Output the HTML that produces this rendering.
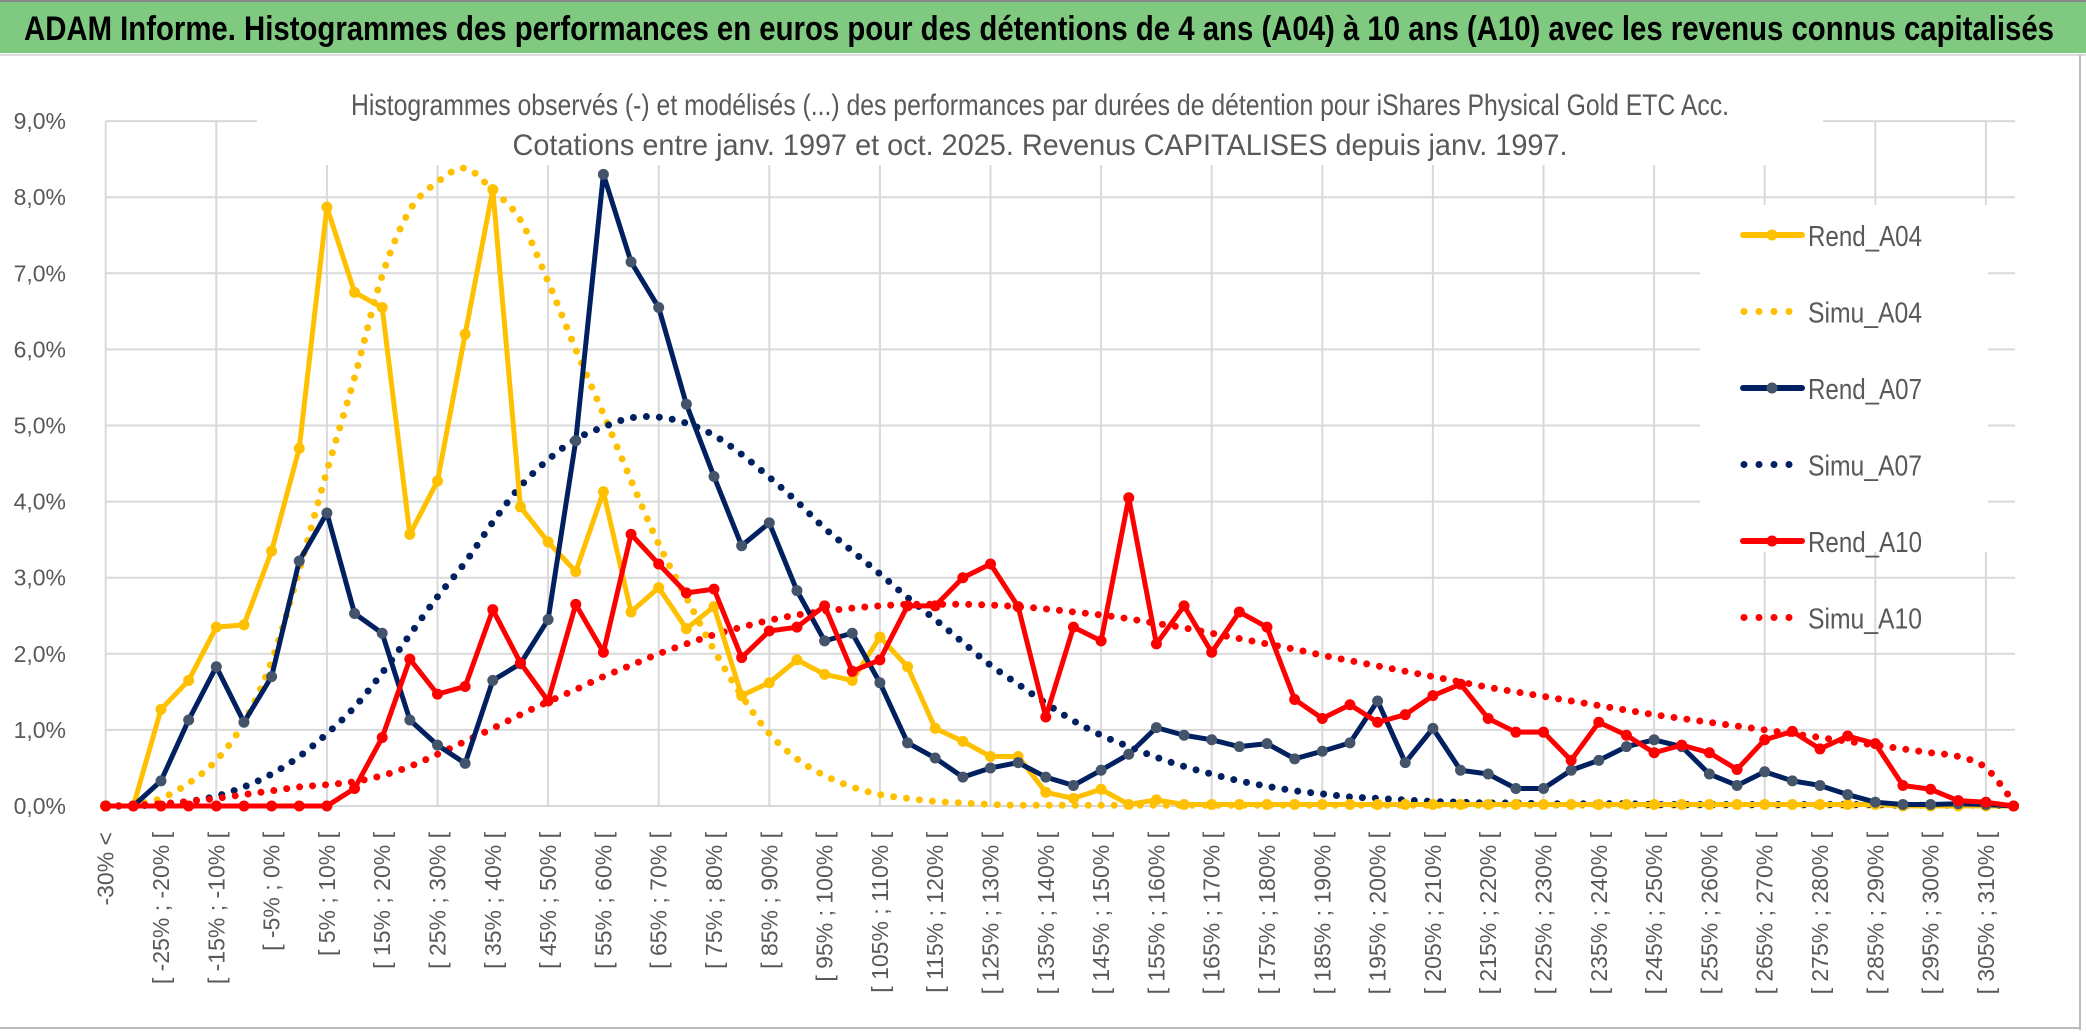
<!DOCTYPE html>
<html><head><meta charset="utf-8"><style>
html,body{margin:0;padding:0;background:#fff;}
svg{display:block;}
text{font-family:"Liberation Sans",sans-serif;}
</style></head><body>
<svg id="chart" width="2086" height="1033" viewBox="0 0 2086 1033">
<rect x="0" y="0" width="2086" height="1033" fill="#fff"/>
<rect x="0" y="0" width="2086" height="53" fill="#7fca80"/>
<line x1="0" y1="1" x2="2086" y2="1" stroke="#888" stroke-width="2"/>
<line x1="0" y1="55" x2="2086" y2="55" stroke="#ddd" stroke-width="2"/>
<text x="24" y="40" font-size="34" font-weight="bold" fill="#000" textLength="2030" lengthAdjust="spacingAndGlyphs">ADAM Informe. Histogrammes des performances en euros pour des détentions de 4 ans (A04) à 10 ans (A10) avec les revenus connus capitalisés</text>
<line x1="2080" y1="55" x2="2080" y2="1030" stroke="#bbb" stroke-width="2"/>
<line x1="0" y1="1028" x2="2080" y2="1028" stroke="#bbb" stroke-width="2"/>
<g id="grid"></g>
<rect x="257" y="60" width="1566" height="105" fill="#fff"/>
<text x="1040" y="115" font-size="30" fill="#595959" text-anchor="middle" textLength="1378" lengthAdjust="spacingAndGlyphs">Histogrammes observés (-) et modélisés (...) des performances par durées de détention pour iShares Physical Gold ETC Acc.</text>
<text x="1040" y="155" font-size="30" fill="#595959" text-anchor="middle" textLength="1055" lengthAdjust="spacingAndGlyphs">Cotations entre janv. 1997 et oct. 2025. Revenus CAPITALISES depuis janv. 1997.</text>
<g id="yaxis"></g>
<g id="xaxis"></g>
<g id="series"></g>
<rect x="1700" y="205" width="288" height="347" fill="#fff"/>
<g id="legend"></g>
</svg>
<script>
const categoryLows = [];
for (let k = 1; k < 70; k++) categoryLows.push(-30 + 5 * (k - 1));
const categories = ["-30% <"].concat(categoryLows.map(l => "[ " + l + "% ; " + (l + 5) + "% ["));
const yTicks = [0,1,2,3,4,5,6,7,8,9];
const yTickLabels = ["0,0%","1,0%","2,0%","3,0%","4,0%","5,0%","6,0%","7,0%","8,0%","9,0%"];
const seriesNames = ["Rend_A04","Simu_A04","Rend_A07","Simu_A07","Rend_A10","Simu_A10"];
const rendA04 = [0,0,1.27,1.65,2.35,2.38,3.35,4.7,7.87,6.75,6.55,3.57,4.27,6.2,8.1,3.93,3.47,3.08,4.13,2.55,2.87,2.33,2.62,1.45,1.62,1.92,1.73,1.65,2.22,1.83,1.02,0.85,0.65,0.65,0.18,0.1,0.22,0.02,0.08,0.02,0.02,0.02,0.02,0.02,0.02,0.02,0.02,0.02,0.02,0.02,0.02,0.02,0.02,0.02,0.02,0.02,0.02,0.02,0.02,0.02,0.02,0.02,0.02,0.02,0.02,0,0,0,0,0];
const simuA04 = [0,0.02,0.1,0.3,0.6,1.1,1.9,3.1,4.4,5.63,6.97,7.83,8.2,8.38,8.09,7.7,6.89,6.0,5.15,4.28,3.44,2.74,2.05,1.45,0.95,0.62,0.4,0.25,0.15,0.1,0.06,0.04,0.02,0.01,0.01,0.01,0.01,0.01,0.01,0.01,0.01,0.01,0.01,0.01,0.01,0.01,0.01,0.01,0.01,0.01,0.01,0.01,0.01,0.01,0.01,0.01,0.01,0.01,0.01,0.01,0.01,0.01,0.01,0.01,0.01,0.01,0.01,0.01,0.01,0];
const rendA07 = [0,0,0.33,1.13,1.83,1.1,1.7,3.22,3.85,2.53,2.27,1.13,0.8,0.56,1.65,1.87,2.45,4.8,8.3,7.15,6.55,5.28,4.33,3.42,3.72,2.83,2.17,2.27,1.62,0.83,0.63,0.38,0.5,0.57,0.38,0.27,0.47,0.68,1.03,0.93,0.87,0.78,0.82,0.62,0.72,0.83,1.38,0.57,1.02,0.47,0.42,0.23,0.23,0.47,0.6,0.78,0.87,0.78,0.42,0.27,0.45,0.33,0.27,0.15,0.05,0.02,0.02,0.03,0.02,0];
const simuA07 = [0,0,0.02,0.06,0.13,0.25,0.42,0.65,0.95,1.3,1.75,2.25,2.75,3.2,3.73,4.2,4.55,4.82,4.98,5.1,5.11,5.03,4.87,4.62,4.32,4.0,3.65,3.35,3.05,2.74,2.45,2.15,1.85,1.6,1.35,1.12,0.93,0.78,0.64,0.52,0.42,0.33,0.26,0.2,0.16,0.12,0.1,0.08,0.06,0.05,0.04,0.04,0.03,0.03,0.03,0.03,0.02,0.02,0.02,0.02,0.02,0.02,0.02,0.02,0.02,0.01,0.01,0.01,0.01,0];
const rendA10 = [0,0,0,0,0,0,0,0,0,0.23,0.9,1.93,1.47,1.57,2.58,1.88,1.38,2.65,2.02,3.57,3.18,2.8,2.85,1.95,2.3,2.35,2.63,1.77,1.92,2.63,2.63,3.0,3.18,2.62,1.17,2.35,2.17,4.05,2.13,2.63,2.02,2.55,2.35,1.4,1.15,1.33,1.1,1.2,1.45,1.6,1.15,0.97,0.97,0.6,1.1,0.93,0.7,0.8,0.7,0.48,0.87,0.98,0.75,0.92,0.82,0.27,0.22,0.07,0.05,0];
const simuA10 = [0,0.01,0.03,0.06,0.1,0.15,0.2,0.25,0.28,0.32,0.4,0.52,0.68,0.85,1.02,1.2,1.37,1.53,1.7,1.85,2.0,2.13,2.25,2.35,2.44,2.51,2.56,2.6,2.63,2.65,2.65,2.65,2.64,2.62,2.59,2.55,2.51,2.46,2.4,2.34,2.27,2.2,2.13,2.06,1.98,1.91,1.84,1.77,1.7,1.63,1.56,1.5,1.44,1.38,1.32,1.26,1.2,1.15,1.1,1.05,1.0,0.95,0.9,0.85,0.8,0.75,0.7,0.65,0.5,0.05];

const NS = "http://www.w3.org/2000/svg";
const X0 = 105.7, DX = 27.65, Y0 = 806, DY = 76.1;
function xScale(i){ return X0 + i * DX; }
function yScale(v){ return Y0 - v * DY; }
function mk(tag, attrs, parent){ const e = document.createElementNS(NS, tag); for (const k in attrs) e.setAttribute(k, attrs[k]); parent.appendChild(e); return e; }

const grid = document.getElementById('grid');
yTicks.forEach((t, i) => {
  const l = mk('line', {x1: X0, x2: 2015, y1: yScale(t), y2: yScale(t), stroke: '#d9d9d9', 'stroke-width': 2}, grid);
  
  
});
for (let i = 0; i < categories.length; i += 4) {
  const l = mk('line', {x1: xScale(i), x2: xScale(i), y1: yScale(9), y2: Y0, stroke: '#d9d9d9', 'stroke-width': 2}, grid);
  
  
}
const ya = document.getElementById('yaxis');
yTicks.forEach((t, i) => {
  const tx = mk('text', {x: 66, y: yScale(t) + 8, 'font-size': 23, fill: '#595959', 'text-anchor': 'end'}, ya);
  tx.textContent = yTickLabels[i];
  
  
});
const xa = document.getElementById('xaxis');
for (let i = 0; i < categories.length; i += 2) {
  const x = xScale(i) + 8, y = 832;
  const tx = mk('text', {x: x, y: y, 'font-size': 23, fill: '#595959', 'text-anchor': 'end', transform: 'rotate(-90 ' + x + ' ' + y + ')'}, xa);
  tx.textContent = categories[i];
  
  
}

function smoothPath(pts){
  let d = 'M' + pts[0][0] + ' ' + pts[0][1];
  for (let i = 0; i < pts.length - 1; i++) {
    const p0 = pts[Math.max(0, i - 1)], p1 = pts[i], p2 = pts[i + 1], p3 = pts[Math.min(pts.length - 1, i + 2)];
    const c1x = p1[0] + (p2[0] - p0[0]) / 6, c1y = p1[1] + (p2[1] - p0[1]) / 6;
    const c2x = p2[0] - (p3[0] - p1[0]) / 6, c2y = p2[1] - (p3[1] - p1[1]) / 6;
    d += ' C' + c1x + ' ' + c1y + ' ' + c2x + ' ' + c2y + ' ' + p2[0] + ' ' + p2[1];
  }
  return d;
}
const sg = document.getElementById('series');
function drawSim(vals, color, name){
  const pts = vals.map((v, i) => [xScale(i), yScale(v)]);
  const p = mk('path', {d: smoothPath(pts), fill: 'none', stroke: color, 'stroke-width': 7, 'stroke-linecap': 'round', 'stroke-dasharray': '0 13'}, sg);
  
  
}
function drawRend(vals, color, mcolor, name){
  const pts = vals.map((v, i) => xScale(i) + ',' + yScale(v)).join(' ');
  const p = mk('polyline', {points: pts, fill: 'none', stroke: color, 'stroke-width': 5, 'stroke-linejoin': 'round'}, sg);
  
  
  vals.forEach((v, i) => {
    const c = mk('circle', {cx: xScale(i), cy: yScale(v), r: 5.5, fill: mcolor}, sg);
    
    
  });
}
drawSim(simuA04, '#FFC000', 'simu-a04-line');
drawSim(simuA07, '#002060', 'simu-a07-line');
drawSim(simuA10, '#FF0000', 'simu-a10-line');
drawRend(rendA04, '#FFC000', '#FFC000', 'rend-a04-line');
drawRend(rendA07, '#002060', '#44546A', 'rend-a07-line');
drawRend(rendA10, '#FF0000', '#FF0000', 'rend-a10-line');

const lg = document.getElementById('legend');
const legColors = ['#FFC000','#FFC000','#002060','#002060','#FF0000','#FF0000'];
const legMarker = ['#FFC000',null,'#44546A',null,'#FF0000',null];
seriesNames.forEach((n, i) => {
  const y = 235 + i * 76.5;
  const g = mk('g', {}, lg);
  
  
  if (legMarker[i]) {
    mk('line', {x1: 1743, x2: 1802, y1: y, y2: y, stroke: legColors[i], 'stroke-width': 6, 'stroke-linecap': 'round'}, g);
    mk('circle', {cx: 1772, cy: y, r: 5.5, fill: legMarker[i]}, g);
  } else {
    mk('line', {x1: 1744, x2: 1800, y1: y, y2: y, stroke: legColors[i], 'stroke-width': 7, 'stroke-linecap': 'round', 'stroke-dasharray': '0 15'}, g);
  }
  const t = mk('text', {x: 1808, y: y + 11, 'font-size': 29, fill: '#595959', textLength: 114, lengthAdjust: 'spacingAndGlyphs'}, g);
  t.textContent = n;
});
</script>
</body></html>
